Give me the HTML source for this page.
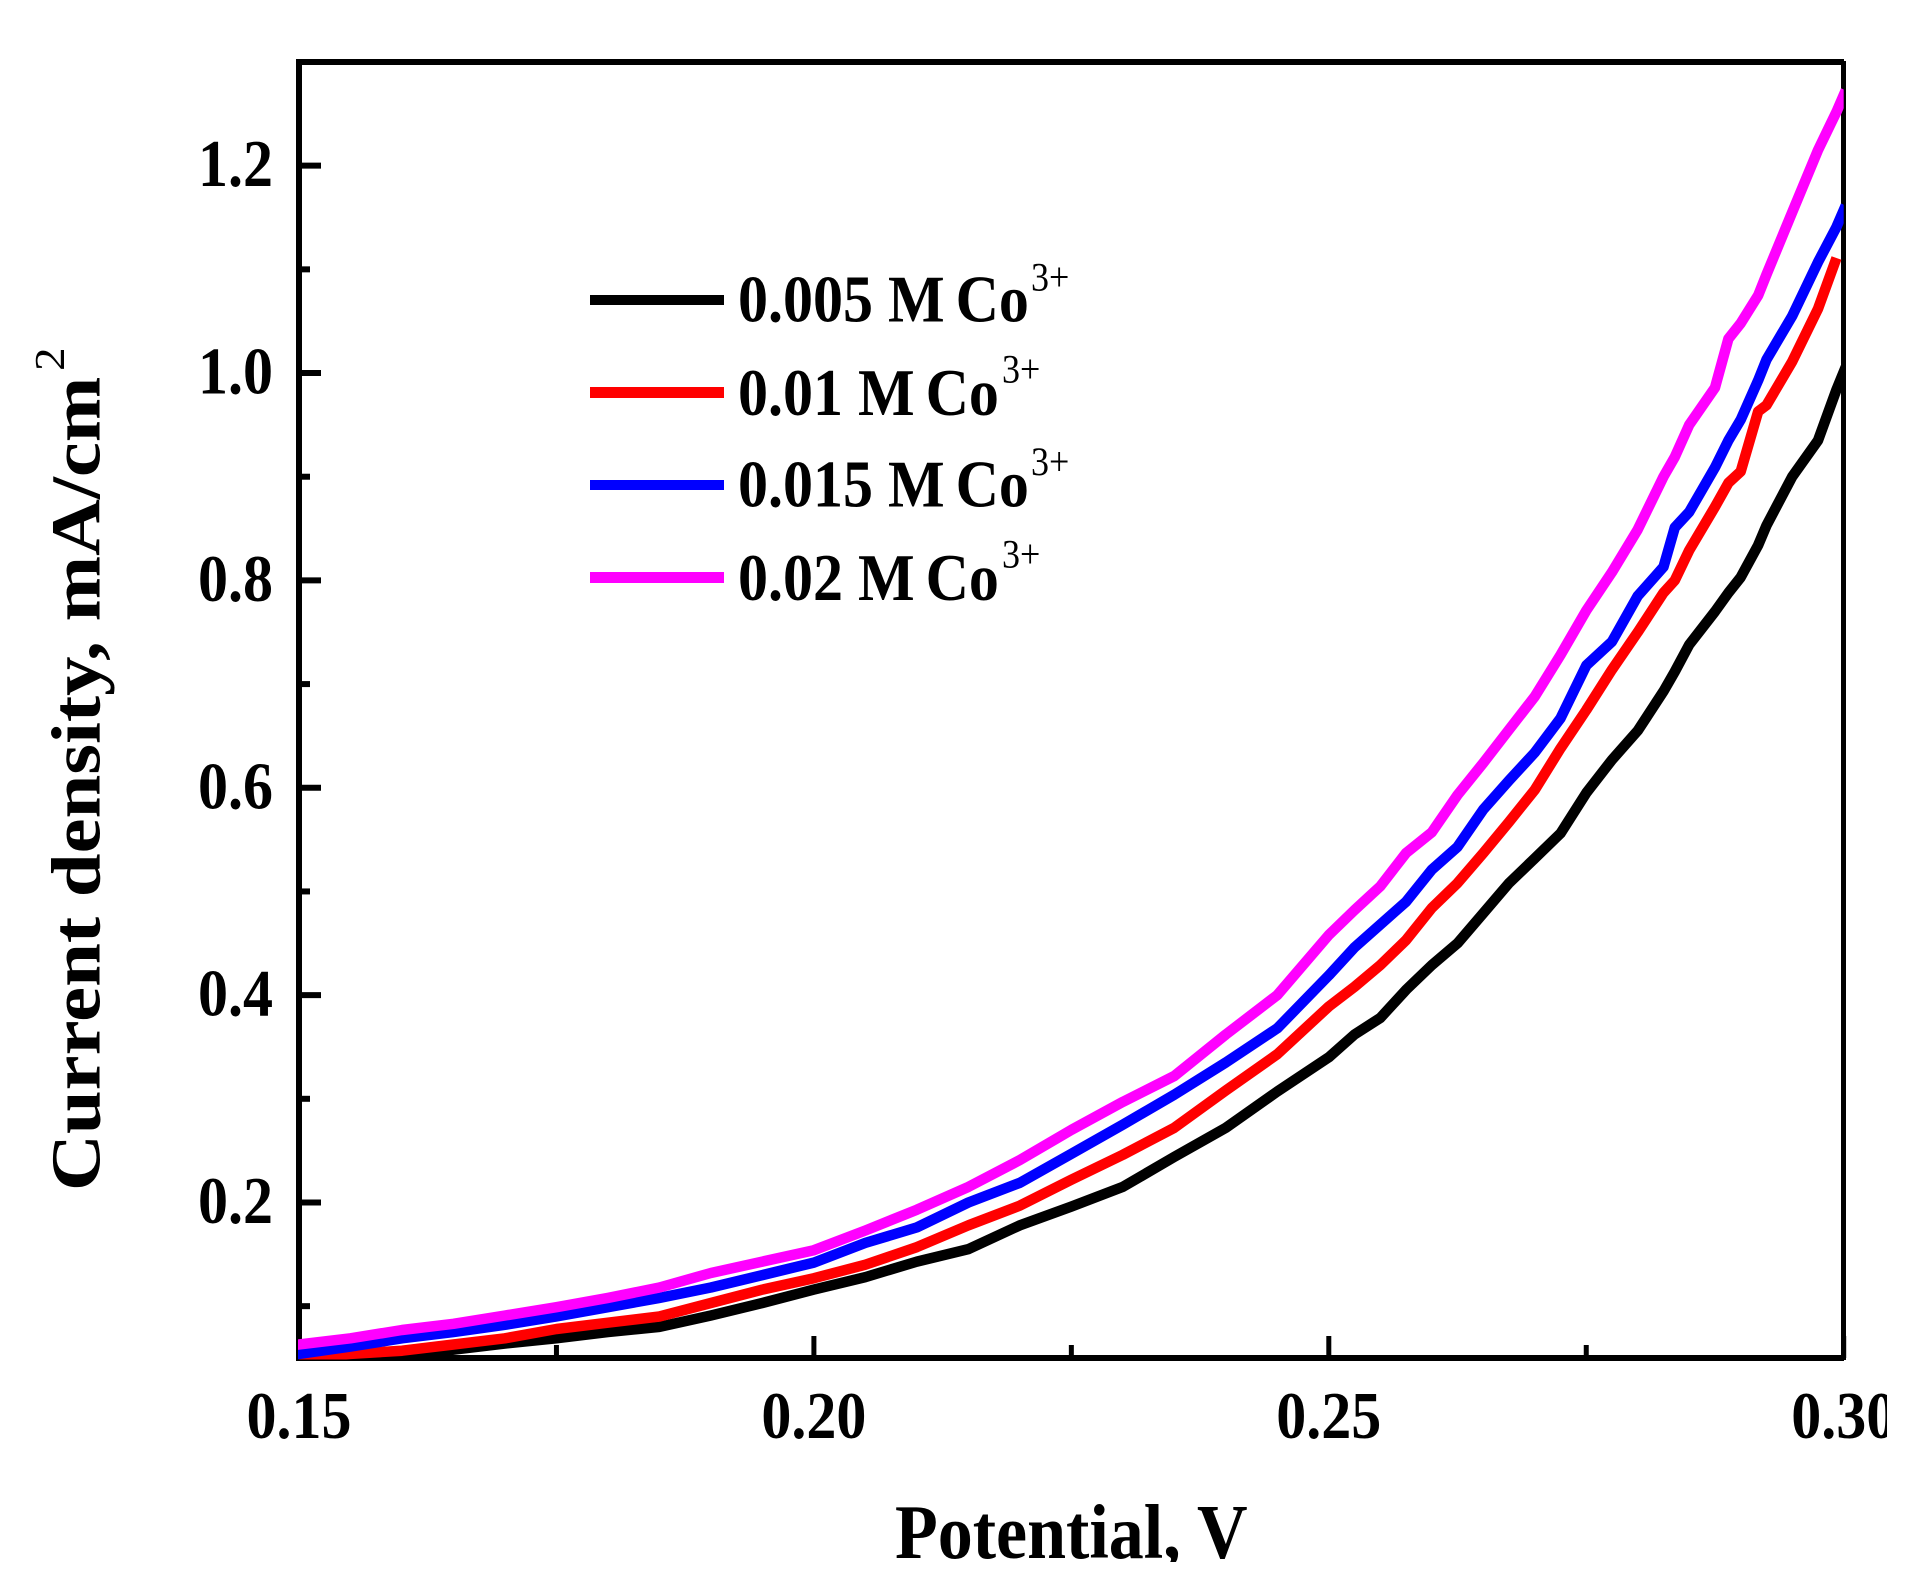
<!DOCTYPE html>
<html lang="en">
<head>
<meta charset="utf-8">
<title>Current density vs Potential</title>
<style>
html,body{margin:0;padding:0;background:#fff;}
svg{display:block;}
text{font-family:"Liberation Serif","Times New Roman",serif;font-weight:bold;fill:#000;}
text.sup{font-weight:normal;}
</style>
</head>
<body>
<svg id="chart" xmlns="http://www.w3.org/2000/svg" width="1922" height="1594" viewBox="0 0 1922 1594">
  <defs>
    <clipPath id="plot-clip"><rect x="298" y="59" width="1545.7" height="1300.5"></rect></clipPath>
    <clipPath id="page-clip"><rect x="0" y="0" width="1887" height="1562"></rect></clipPath>
  </defs>
  <rect x="0" y="0" width="1922" height="1594" fill="#fff"></rect>
  <g id="axes"></g>
  <g id="labels" clip-path="url(#page-clip)">
    <text font-size="70" transform="translate(895,1558) scale(1,1.11)">Potential, V</text>
    <text font-size="70" transform="translate(99.5,1191) rotate(-90) scale(1.125,1)">Current density, mA/cm</text>
    <text class="sup" font-size="42" transform="translate(64,371) rotate(-90) scale(1.125,1)">2</text>
  </g>
  <g id="series" clip-path="url(#plot-clip)"></g>
  <g>
    <g>
      <rect x="590" y="295" width="134" height="10" fill="#000"></rect>
      <text font-size="60" transform="translate(738,321.7) scale(1,1.11)">0.005 M <tspan dx="-4">Co</tspan></text>
      <text class="sup" font-size="36" transform="translate(1031,290.7) scale(1,1.11)">3+</text>
    </g>
    <g>
      <rect x="590" y="387" width="134" height="11" fill="#f00"></rect>
      <text font-size="60" transform="translate(738,415) scale(1,1.11)">0.01 M <tspan dx="-4">Co</tspan></text>
      <text class="sup" font-size="36" transform="translate(1002,382.3) scale(1,1.11)">3+</text>
    </g>
    <g>
      <rect x="590" y="480" width="134" height="10" fill="#00f"></rect>
      <text font-size="60" transform="translate(738,506.7) scale(1,1.11)">0.015 M <tspan dx="-4">Co</tspan></text>
      <text class="sup" font-size="36" transform="translate(1031,475) scale(1,1.11)">3+</text>
    </g>
    <g>
      <rect x="590" y="572" width="134" height="11" fill="#f0f"></rect>
      <text font-size="60" transform="translate(738,600) scale(1,1.11)">0.02 M <tspan dx="-4">Co</tspan></text>
      <text class="sup" font-size="36" transform="translate(1002,567.3) scale(1,1.11)">3+</text>
    </g>
  </g>
</svg>
<script>
var potentials = [0.15,0.155,0.16,0.165,0.17,0.175,0.18,0.185,0.19,0.195,0.2,0.205,0.21,0.215,0.22,0.225,0.23,0.235,0.24,0.245,0.25,0.2525,0.255,0.2575,0.26,0.2625,0.265,0.2675,0.27,0.2725,0.275,0.2775,0.28,0.2825,0.2836,0.285,0.2875,0.2888,0.29,0.2917,0.2925,0.295,0.2975,0.2993,0.3];
var seriesBlack = [0.046,0.05,0.052,0.058,0.064,0.069,0.075,0.08,0.091,0.103,0.116,0.128,0.143,0.155,0.178,0.196,0.215,0.244,0.272,0.307,0.34,0.362,0.378,0.405,0.429,0.45,0.479,0.508,0.532,0.556,0.595,0.627,0.655,0.693,0.712,0.738,0.77,0.788,0.803,0.834,0.853,0.9,0.935,0.984,1.001];
var seriesRed = [0.05,0.054,0.057,0.063,0.069,0.078,0.084,0.09,0.103,0.116,0.127,0.14,0.157,0.178,0.197,0.222,0.246,0.272,0.308,0.343,0.389,0.408,0.429,0.453,0.484,0.508,0.537,0.567,0.598,0.638,0.675,0.714,0.75,0.788,0.8,0.829,0.871,0.894,0.905,0.963,0.969,1.011,1.062,1.111,null];
var seriesBlue = [0.054,0.061,0.069,0.075,0.082,0.09,0.099,0.108,0.118,0.13,0.142,0.161,0.176,0.2,0.219,0.247,0.275,0.304,0.335,0.368,0.419,0.446,0.468,0.49,0.521,0.543,0.579,0.607,0.634,0.667,0.718,0.741,0.785,0.813,0.851,0.866,0.909,0.935,0.955,0.993,1.013,1.055,1.107,1.141,1.157];
var seriesMagenta = [0.063,0.069,0.077,0.083,0.091,0.099,0.108,0.118,0.132,0.143,0.154,0.173,0.193,0.215,0.241,0.27,0.297,0.322,0.362,0.4,0.458,0.482,0.505,0.537,0.557,0.593,0.624,0.656,0.688,0.728,0.771,0.808,0.849,0.9,0.919,0.95,0.986,1.033,1.048,1.075,1.095,1.155,1.215,1.252,1.268];
var xMajorTicks = [0.15,0.2,0.25,0.3];
var xMinorTicks = [0.175,0.225,0.275];
var xTickLabels = ["0.15","0.20","0.25","0.30"];
var yMajorTicks = [0.2,0.4,0.6,0.8,1.0,1.2];
var yMinorTicks = [0.1,0.3,0.5,0.7,0.9,1.1];
var yTickLabels = ["0.2","0.4","0.6","0.8","1.0","1.2"];

var NS = "http://www.w3.org/2000/svg";
function xScale(v){ return 299 + (v - 0.15) / 0.15 * 1544.7; }
function yScale(v){ return 1358 - (v - 0.05) / 1.25 * 1296; }

function makeLine(parent, x1, y1, x2, y2, w){
  var l = document.createElementNS(NS, "line");
  l.setAttribute("x1", x1);
  l.setAttribute("y1", y1);
  l.setAttribute("x2", x2);
  l.setAttribute("y2", y2);
  l.setAttribute("stroke", "#000");
  l.setAttribute("stroke-width", w);
  parent.appendChild(l);
  return l;
}

var axes = document.getElementById("axes");
var labels = document.getElementById("labels");
var frameLeft = makeLine(axes, 299, 59, 299, 1361, 6);


var frameBottom = makeLine(axes, 296, 1358, 1844, 1358, 6);


var frameTop = makeLine(axes, 296, 62, 1844, 62, 6);


var frameRight = makeLine(axes, 1843.5, 61, 1843.5, 1360, 5);



xMajorTicks.forEach(function(v, i){
  var t = makeLine(axes, xScale(v), 1358, xScale(v), 1336, 5);
  
  
  var s = document.createElementNS(NS, "text");
  s.setAttribute("font-size", "60");
  s.setAttribute("text-anchor", "middle");
  s.setAttribute("transform", "translate(" + xScale(v) + ",1438) scale(1,1.11)");
  
  
  s.textContent = xTickLabels[i];
  labels.appendChild(s);
});
xMinorTicks.forEach(function(v){
  var t = makeLine(axes, xScale(v), 1358, xScale(v), 1345, 5);
  
  
});
yMajorTicks.forEach(function(v, i){
  var t = makeLine(axes, 299, yScale(v), 321, yScale(v), 6);
  
  
  var s = document.createElementNS(NS, "text");
  s.setAttribute("font-size", "60");
  s.setAttribute("text-anchor", "end");
  s.setAttribute("transform", "translate(273," + (yScale(v) + 20.5) + ") scale(1,1.11)");
  
  
  s.textContent = yTickLabels[i];
  labels.appendChild(s);
});
yMinorTicks.forEach(function(v){
  var t = makeLine(axes, 299, yScale(v), 310, yScale(v), 6);
  
  
});

var seriesGroup = document.getElementById("series");
function drawSeries(values, color, name, cap){
  var pts = [];
  for (var i = 0; i < potentials.length; i++){
    if (values[i] === null) continue;
    pts.push(xScale(potentials[i]).toFixed(1) + "," + yScale(values[i]).toFixed(1));
  }
  var p = document.createElementNS(NS, "polyline");
  p.setAttribute("points", pts.join(" "));
  p.setAttribute("fill", "none");
  p.setAttribute("stroke", color);
  p.setAttribute("stroke-width", "10.5");
  p.setAttribute("stroke-linejoin", "round");
  p.setAttribute("stroke-linecap", cap);
  
  
  seriesGroup.appendChild(p);
}
drawSeries(seriesBlack, "#000", "series-0.005M-black", "square");
drawSeries(seriesRed, "#f00", "series-0.01M-red", "butt");
drawSeries(seriesBlue, "#00f", "series-0.015M-blue", "square");
drawSeries(seriesMagenta, "#f0f", "series-0.02M-magenta", "square");
</script>
</body>
</html>
